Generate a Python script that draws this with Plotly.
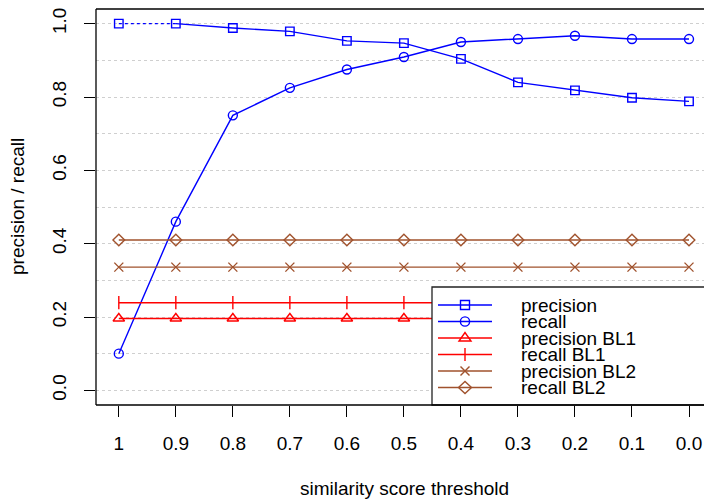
import plotly.graph_objects as go

# ---- data ----
thresholds = [1.0, 0.9, 0.8, 0.7, 0.6, 0.5, 0.4, 0.3, 0.2, 0.1, 0.0]
threshold_labels = ["1", "0.9", "0.8", "0.7", "0.6", "0.5", "0.4", "0.3", "0.2", "0.1", "0.0"]
precision = [1.000, 1.000, 0.988, 0.979, 0.953, 0.947, 0.904, 0.840, 0.818, 0.798, 0.788]
recall = [0.100, 0.460, 0.750, 0.825, 0.875, 0.909, 0.950, 0.958, 0.967, 0.958, 0.958]
precision_bl1 = [0.196] * 11
recall_bl1 = [0.239] * 11
precision_bl2 = [0.336] * 11
recall_bl2 = [0.410] * 11
y_ticks = [0.0, 0.2, 0.4, 0.6, 0.8, 1.0]
y_tick_labels = ["0.0", "0.2", "0.4", "0.6", "0.8", "1.0"]

BLUE = "#0000FF"
RED = "#FF0000"
BROWN = "#A0522D"
FONT = "Liberation Sans, Arial, sans-serif"
FS = 19

W, H = 704, 500
ML, MR, MT, MB = 96, 0, 9, 95
PW = W - ML - MR
PH = H - MT - MB


def px_x(p):
    return (p - ML) / PW


def px_y(p):
    return (H - MB - p) / PH


fig = go.Figure()

LW = 1.4
MS = 9

# precision: first segment dotted, rest solid
fig.add_trace(go.Scatter(x=thresholds[:2], y=precision[:2], mode="lines",
                         line=dict(color=BLUE, width=LW, dash="dot"),
                         showlegend=False, hoverinfo="skip"))
fig.add_trace(go.Scatter(x=thresholds[1:], y=precision[1:], mode="lines",
                         line=dict(color=BLUE, width=LW), showlegend=False))
fig.add_trace(go.Scatter(x=thresholds, y=precision, mode="markers", name="precision",
                         marker=dict(symbol="square-open", size=MS - 0.5, color=BLUE,
                                     line=dict(width=LW, color=BLUE)),
                         showlegend=False))
fig.add_trace(go.Scatter(x=thresholds, y=recall, mode="lines+markers", name="recall",
                         line=dict(color=BLUE, width=LW),
                         marker=dict(symbol="circle-open", size=MS, color=BLUE,
                                     line=dict(width=LW, color=BLUE)),
                         showlegend=False))
fig.add_trace(go.Scatter(x=thresholds, y=precision_bl1, mode="lines+markers", name="precision BL1",
                         line=dict(color=RED, width=LW),
                         marker=dict(symbol="triangle-up-open", size=MS + 1, color=RED,
                                     line=dict(width=LW, color=RED)),
                         showlegend=False))
fig.add_trace(go.Scatter(x=thresholds, y=recall_bl1, mode="lines+markers", name="recall BL1",
                         line=dict(color=RED, width=LW),
                         marker=dict(symbol="line-ns-open", size=MS + 0.5, color=RED,
                                     line=dict(width=LW, color=RED)),
                         showlegend=False))
fig.add_trace(go.Scatter(x=thresholds, y=precision_bl2, mode="lines+markers", name="precision BL2",
                         line=dict(color=BROWN, width=LW),
                         marker=dict(symbol="x-thin-open", size=MS, color=BROWN,
                                     line=dict(width=LW, color=BROWN)),
                         showlegend=False))
fig.add_trace(go.Scatter(x=thresholds, y=recall_bl2, mode="lines+markers", name="recall BL2",
                         line=dict(color=BROWN, width=LW),
                         marker=dict(symbol="diamond-open", size=MS, color=BROWN,
                                     line=dict(width=LW, color=BROWN)),
                         showlegend=False))

shapes = []
# ---- manual legend (R-style box at bottom right) ----
shapes.append(dict(type="rect", xref="paper", yref="paper", layer="above",
                   x0=px_x(432), x1=1.1, y0=0, y1=px_y(287),
                   fillcolor="white", line=dict(color="#222", width=1.3)))
rows = [305, 321.5, 338, 354.5, 371, 387.5]
names = ["precision", "recall", "precision BL1", "recall BL1", "precision BL2", "recall BL2"]
colors = [BLUE, BLUE, RED, RED, BROWN, BROWN]
glyphs = ["square", "circle", "triangle", "plus", "x", "diamond"]
MX = px_x(465)
annotations = []
for r, n, c, g in zip(rows, names, colors, glyphs):
    ya = px_y(r)
    shapes.append(dict(type="line", xref="paper", yref="paper", layer="above",
                       x0=px_x(438), x1=px_x(492), y0=ya, y1=ya,
                       line=dict(color=c, width=LW)))
    base = dict(xref="paper", yref="paper", layer="above", xsizemode="pixel",
                ysizemode="pixel", xanchor=MX, yanchor=ya, line=dict(color=c, width=LW))
    if g == "square":
        shapes.append(dict(type="rect", x0=-4.5, x1=4.5, y0=-4.5, y1=4.5, **base))
    elif g == "circle":
        shapes.append(dict(type="circle", x0=-4.6, x1=4.6, y0=-4.6, y1=4.6, **base))
    elif g == "triangle":
        shapes.append(dict(type="path", path="M-6,-3 L6,-3 L0,5.5 Z", **base))
    elif g == "plus":
        shapes.append(dict(type="line", x0=0, x1=0, y0=-6.5, y1=6.5, **base))
    elif g == "x":
        shapes.append(dict(type="line", x0=-4.5, x1=4.5, y0=-4.5, y1=4.5, **base))
        shapes.append(dict(type="line", x0=-4.5, x1=4.5, y0=4.5, y1=-4.5, **base))
    elif g == "diamond":
        shapes.append(dict(type="path", path="M-6.5,0 L0,6 L6.5,0 L0,-6 Z", **base))
    annotations.append(dict(xref="paper", yref="paper", x=px_x(519), y=ya,
                            xanchor="left", yanchor="middle", text=n, showarrow=False,
                            font=dict(family=FONT, size=FS, color="black")))

# ---- plot box (left, top, bottom) ----
for (x0, x1, y0, y1) in [(0, 0, 0, 1), (0, 1, 1, 1), (0, 1, 0, 0)]:
    shapes.append(dict(type="line", xref="paper", yref="paper", layer="above",
                       x0=x0, x1=x1, y0=y0, y1=y1, line=dict(color="black", width=1.3)))

# axis titles
annotations.append(dict(xref="paper", yref="paper", x=px_x(404), y=px_y(488),
                        xanchor="center", yanchor="middle", text="similarity score threshold",
                        showarrow=False, font=dict(family=FONT, size=FS, color="black")))
annotations.append(dict(xref="paper", yref="paper", x=px_x(17), y=0.5, textangle=-90,
                        xanchor="center", yanchor="middle", text="precision / recall",
                        showarrow=False, font=dict(family=FONT, size=FS, color="black")))

fig.update_layout(
    width=W, height=H,
    margin=dict(l=ML, r=MR, t=MT, b=MB, pad=0),
    paper_bgcolor="white", plot_bgcolor="white",
    font=dict(family=FONT, size=FS, color="black"),
    showlegend=False,
    shapes=shapes,
    annotations=annotations,
    xaxis=dict(range=[1.04, -0.0263], tickmode="array", tickvals=thresholds,
               ticktext=threshold_labels, ticks="outside", ticklen=11, tickwidth=1,
               tickcolor="black", showgrid=False, zeroline=False, showline=False,
               ticklabelstandoff=10, tickfont=dict(size=FS, color="black")),
    yaxis=dict(range=[-0.04, 1.04], tickmode="array", tickvals=y_ticks,
               ticktext=y_tick_labels, tickangle=-90, ticks="outside", ticklen=11,
               tickwidth=1, tickcolor="black", showgrid=True, gridcolor="#CFCFCF",
               griddash="dot", gridwidth=1, zeroline=False, showline=False,
               ticklabelstandoff=10, tickfont=dict(size=FS, color="black"),
               minor=dict(tickvals=[0.1, 0.3, 0.5, 0.7, 0.9], showgrid=True,
                          gridcolor="#CFCFCF", griddash="dot", gridwidth=1, ticks="")),
)

fig.write_html("out.html")
